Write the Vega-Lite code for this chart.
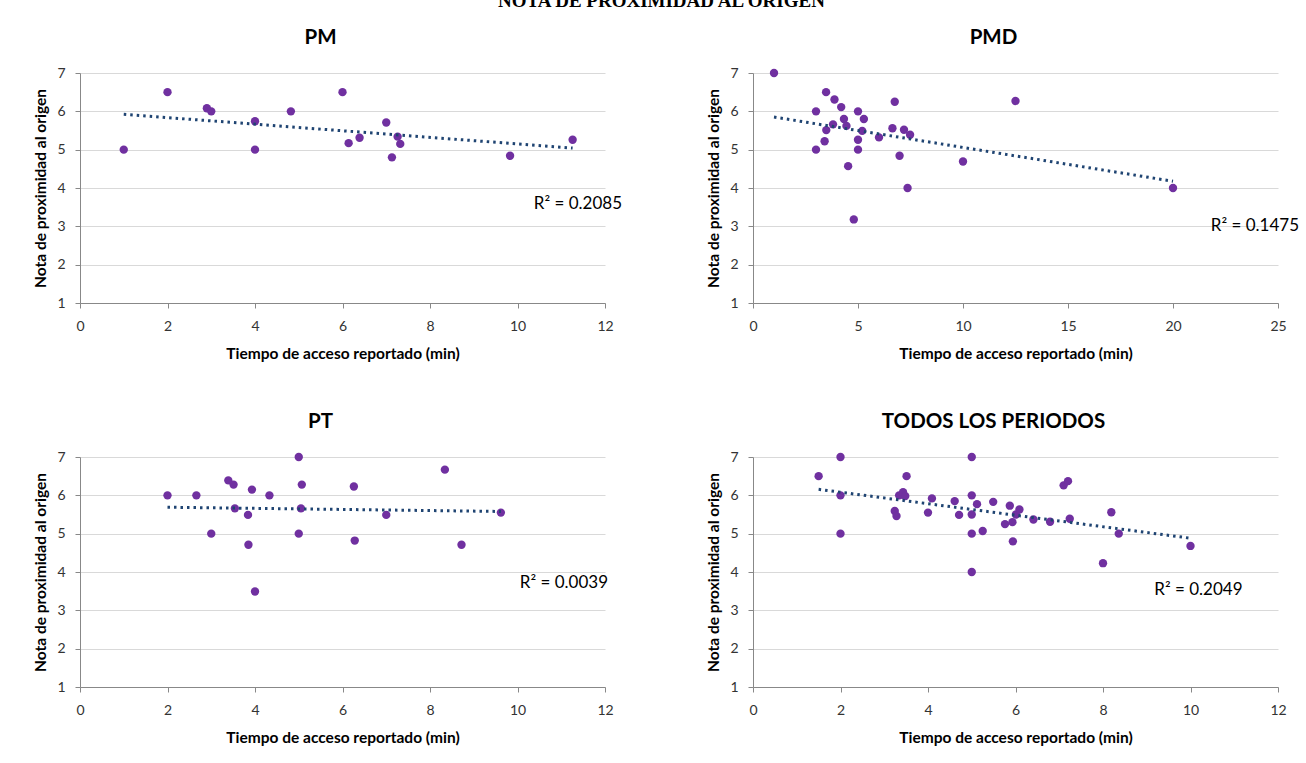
{
  "$schema": "https://vega.github.io/schema/vega-lite/v6.json",
  "background": "white",
  "padding": {"left": 33, "top": -8, "right": 0, "bottom": 0},
  "title": {"text": "NOTA DE PROXIMIDAD AL ORIGEN", "font": "Liberation Serif", "fontSize": 19, "fontWeight": "bold", "offset": 16.5, "dx": -5, "anchor": "middle", "color": "black"},
  "bounds": "flush",
  "columns": 2,
  "spacing": {"row": 154, "column": 148},
  "datasets": {
    "pm": [
      {"t": 1, "nota": 5}, {"t": 2, "nota": 6.5}, {"t": 2.9, "nota": 6.08}, {"t": 3, "nota": 6},
      {"t": 4, "nota": 5.74}, {"t": 4, "nota": 5}, {"t": 4.82, "nota": 6}, {"t": 6, "nota": 6.5},
      {"t": 6.14, "nota": 5.17}, {"t": 6.39, "nota": 5.31}, {"t": 7, "nota": 5.71}, {"t": 7.13, "nota": 4.8},
      {"t": 7.26, "nota": 5.34}, {"t": 7.32, "nota": 5.15}, {"t": 9.83, "nota": 4.84}, {"t": 11.26, "nota": 5.26}
    ],
    "pmd": [
      {"t": 1, "nota": 7}, {"t": 3.48, "nota": 6.5}, {"t": 3.88, "nota": 6.31}, {"t": 4.2, "nota": 6.11},
      {"t": 3, "nota": 6}, {"t": 5, "nota": 6}, {"t": 6.75, "nota": 6.25}, {"t": 12.5, "nota": 6.27},
      {"t": 4.33, "nota": 5.8}, {"t": 5.28, "nota": 5.8}, {"t": 3.81, "nota": 5.66}, {"t": 4.45, "nota": 5.62},
      {"t": 3.49, "nota": 5.51}, {"t": 5.2, "nota": 5.49}, {"t": 6.64, "nota": 5.56}, {"t": 7.19, "nota": 5.52},
      {"t": 7.48, "nota": 5.39}, {"t": 6, "nota": 5.32}, {"t": 3.41, "nota": 5.22}, {"t": 5, "nota": 5.26},
      {"t": 3, "nota": 5}, {"t": 5, "nota": 5}, {"t": 6.98, "nota": 4.84}, {"t": 10, "nota": 4.69},
      {"t": 4.53, "nota": 4.57}, {"t": 7.36, "nota": 4}, {"t": 20, "nota": 4}, {"t": 4.8, "nota": 3.18}
    ],
    "pt": [
      {"t": 2, "nota": 6}, {"t": 2.66, "nota": 6}, {"t": 3, "nota": 5}, {"t": 3.39, "nota": 6.39},
      {"t": 3.51, "nota": 6.28}, {"t": 3.54, "nota": 5.66}, {"t": 3.84, "nota": 5.49}, {"t": 3.85, "nota": 4.71},
      {"t": 3.93, "nota": 6.15}, {"t": 4, "nota": 3.49}, {"t": 4.33, "nota": 6}, {"t": 5, "nota": 7},
      {"t": 5.07, "nota": 6.28}, {"t": 5.05, "nota": 5.66}, {"t": 5, "nota": 5}, {"t": 6.26, "nota": 6.23},
      {"t": 6.28, "nota": 4.82}, {"t": 7, "nota": 5.49}, {"t": 8.34, "nota": 6.67}, {"t": 8.72, "nota": 4.71},
      {"t": 9.62, "nota": 5.55}
    ],
    "todos": [
      {"t": 1.5, "nota": 6.5}, {"t": 2, "nota": 7}, {"t": 2, "nota": 6}, {"t": 2, "nota": 5},
      {"t": 3.24, "nota": 5.59}, {"t": 3.28, "nota": 5.46}, {"t": 3.34, "nota": 6}, {"t": 3.43, "nota": 6.08},
      {"t": 3.48, "nota": 5.98}, {"t": 3.51, "nota": 6.5}, {"t": 4, "nota": 5.55}, {"t": 4.09, "nota": 5.92},
      {"t": 4.61, "nota": 5.85}, {"t": 4.71, "nota": 5.49}, {"t": 5, "nota": 7}, {"t": 5, "nota": 6},
      {"t": 5, "nota": 5.5}, {"t": 5, "nota": 5}, {"t": 5, "nota": 4}, {"t": 5.12, "nota": 5.77},
      {"t": 5.25, "nota": 5.07}, {"t": 5.49, "nota": 5.83}, {"t": 5.76, "nota": 5.25}, {"t": 5.87, "nota": 5.73},
      {"t": 5.93, "nota": 5.3}, {"t": 5.94, "nota": 4.8}, {"t": 6.01, "nota": 5.5}, {"t": 6.09, "nota": 5.63},
      {"t": 6.41, "nota": 5.37}, {"t": 6.79, "nota": 5.31}, {"t": 7.1, "nota": 6.26}, {"t": 7.2, "nota": 6.37},
      {"t": 7.24, "nota": 5.39}, {"t": 8, "nota": 4.23}, {"t": 8.19, "nota": 5.56}, {"t": 8.36, "nota": 5},
      {"t": 10, "nota": 4.68}
    ]
  },
  "concat": [
    {
      "width": 525, "height": 230,
      "title": {"text": "PM", "dx": -22, "offset": 18},
      "data": {"name": "pm"},
      "layer": [
        {"mark": {"type": "circle", "size": 70, "opacity": 1, "color": "#7030A0"},
         "encoding": {
           "x": {"field": "t", "type": "quantitative", "scale": {"domain": [0, 12], "nice": false}, "axis": {"values": [0, 2, 4, 6, 8, 10, 12], "title": "Tiempo de acceso reportado (min)"}},
           "y": {"field": "nota", "type": "quantitative", "scale": {"domain": [1, 7], "nice": false, "zero": false}, "axis": {"values": [1, 2, 3, 4, 5, 6, 7], "tickCount": 7, "title": "Nota de proximidad al origen"}}}},
        {"transform": [{"regression": "nota", "on": "t"}],
         "mark": {"type": "line", "color": "#1F4472", "strokeWidth": 3, "strokeDash": [2.5, 4], "strokeCap": "butt"},
         "encoding": {
           "x": {"field": "t", "type": "quantitative", "scale": {"domain": [0, 12], "nice": false}, "axis": {"values": [0, 2, 4, 6, 8, 10, 12], "title": "Tiempo de acceso reportado (min)"}},
           "y": {"field": "nota", "type": "quantitative", "scale": {"domain": [1, 7], "nice": false, "zero": false}, "axis": {"values": [1, 2, 3, 4, 5, 6, 7], "tickCount": 7, "title": "Nota de proximidad al origen"}}}},
        {"data": {"values": [{"label": "R² = 0.2085"}]},
         "mark": {"type": "text", "align": "right", "baseline": "middle", "fontSize": 17, "font": "Lato", "color": "black"},
         "encoding": {"text": {"field": "label"},
           "x": {"datum": 12.39, "type": "quantitative", "scale": {"domain": [0, 12], "nice": false}, "axis": {"values": [0, 2, 4, 6, 8, 10, 12], "title": "Tiempo de acceso reportado (min)"}},
           "y": {"datum": 3.58, "type": "quantitative", "scale": {"domain": [1, 7], "nice": false, "zero": false}, "axis": {"values": [1, 2, 3, 4, 5, 6, 7], "tickCount": 7, "title": "Nota de proximidad al origen"}}}}
      ]
    },
    {
      "width": 525, "height": 230,
      "title": {"text": "PMD", "dx": -22, "offset": 18},
      "data": {"name": "pmd"},
      "layer": [
        {"mark": {"type": "circle", "size": 70, "opacity": 1, "color": "#7030A0"},
         "encoding": {
           "x": {"field": "t", "type": "quantitative", "scale": {"domain": [0, 25], "nice": false}, "axis": {"values": [0, 5, 10, 15, 20, 25], "title": "Tiempo de acceso reportado (min)"}},
           "y": {"field": "nota", "type": "quantitative", "scale": {"domain": [1, 7], "nice": false, "zero": false}, "axis": {"values": [1, 2, 3, 4, 5, 6, 7], "tickCount": 7, "title": "Nota de proximidad al origen"}}}},
        {"transform": [{"regression": "nota", "on": "t"}],
         "mark": {"type": "line", "color": "#1F4472", "strokeWidth": 3, "strokeDash": [2.5, 4], "strokeCap": "butt"},
         "encoding": {
           "x": {"field": "t", "type": "quantitative", "scale": {"domain": [0, 25], "nice": false}, "axis": {"values": [0, 5, 10, 15, 20, 25], "title": "Tiempo de acceso reportado (min)"}},
           "y": {"field": "nota", "type": "quantitative", "scale": {"domain": [1, 7], "nice": false, "zero": false}, "axis": {"values": [1, 2, 3, 4, 5, 6, 7], "tickCount": 7, "title": "Nota de proximidad al origen"}}}},
        {"data": {"values": [{"label": "R² = 0.1475"}]},
         "mark": {"type": "text", "align": "right", "baseline": "middle", "fontSize": 17, "font": "Lato", "color": "black"},
         "encoding": {"text": {"field": "label"},
           "x": {"datum": 26.0, "type": "quantitative", "scale": {"domain": [0, 25], "nice": false}, "axis": {"values": [0, 5, 10, 15, 20, 25], "title": "Tiempo de acceso reportado (min)"}},
           "y": {"datum": 3.0, "type": "quantitative", "scale": {"domain": [1, 7], "nice": false, "zero": false}, "axis": {"values": [1, 2, 3, 4, 5, 6, 7], "tickCount": 7, "title": "Nota de proximidad al origen"}}}}
      ]
    },
    {
      "width": 525, "height": 230,
      "title": {"text": "PT", "dx": -22, "offset": 18},
      "data": {"name": "pt"},
      "layer": [
        {"mark": {"type": "circle", "size": 70, "opacity": 1, "color": "#7030A0"},
         "encoding": {
           "x": {"field": "t", "type": "quantitative", "scale": {"domain": [0, 12], "nice": false}, "axis": {"values": [0, 2, 4, 6, 8, 10, 12], "title": "Tiempo de acceso reportado (min)"}},
           "y": {"field": "nota", "type": "quantitative", "scale": {"domain": [1, 7], "nice": false, "zero": false}, "axis": {"values": [1, 2, 3, 4, 5, 6, 7], "tickCount": 7, "title": "Nota de proximidad al origen"}}}},
        {"transform": [{"regression": "nota", "on": "t"}],
         "mark": {"type": "line", "color": "#1F4472", "strokeWidth": 3, "strokeDash": [2.5, 4], "strokeCap": "butt"},
         "encoding": {
           "x": {"field": "t", "type": "quantitative", "scale": {"domain": [0, 12], "nice": false}, "axis": {"values": [0, 2, 4, 6, 8, 10, 12], "title": "Tiempo de acceso reportado (min)"}},
           "y": {"field": "nota", "type": "quantitative", "scale": {"domain": [1, 7], "nice": false, "zero": false}, "axis": {"values": [1, 2, 3, 4, 5, 6, 7], "tickCount": 7, "title": "Nota de proximidad al origen"}}}},
        {"data": {"values": [{"label": "R² = 0.0039"}]},
         "mark": {"type": "text", "align": "right", "baseline": "middle", "fontSize": 17, "font": "Lato", "color": "black"},
         "encoding": {"text": {"field": "label"},
           "x": {"datum": 12.07, "type": "quantitative", "scale": {"domain": [0, 12], "nice": false}, "axis": {"values": [0, 2, 4, 6, 8, 10, 12], "title": "Tiempo de acceso reportado (min)"}},
           "y": {"datum": 3.71, "type": "quantitative", "scale": {"domain": [1, 7], "nice": false, "zero": false}, "axis": {"values": [1, 2, 3, 4, 5, 6, 7], "tickCount": 7, "title": "Nota de proximidad al origen"}}}}
      ]
    },
    {
      "width": 525, "height": 230,
      "title": {"text": "TODOS LOS PERIODOS", "dx": -22, "offset": 18},
      "data": {"name": "todos"},
      "layer": [
        {"mark": {"type": "circle", "size": 70, "opacity": 1, "color": "#7030A0"},
         "encoding": {
           "x": {"field": "t", "type": "quantitative", "scale": {"domain": [0, 12], "nice": false}, "axis": {"values": [0, 2, 4, 6, 8, 10, 12], "title": "Tiempo de acceso reportado (min)"}},
           "y": {"field": "nota", "type": "quantitative", "scale": {"domain": [1, 7], "nice": false, "zero": false}, "axis": {"values": [1, 2, 3, 4, 5, 6, 7], "tickCount": 7, "title": "Nota de proximidad al origen"}}}},
        {"transform": [{"regression": "nota", "on": "t"}],
         "mark": {"type": "line", "color": "#1F4472", "strokeWidth": 3, "strokeDash": [2.5, 4], "strokeCap": "butt"},
         "encoding": {
           "x": {"field": "t", "type": "quantitative", "scale": {"domain": [0, 12], "nice": false}, "axis": {"values": [0, 2, 4, 6, 8, 10, 12], "title": "Tiempo de acceso reportado (min)"}},
           "y": {"field": "nota", "type": "quantitative", "scale": {"domain": [1, 7], "nice": false, "zero": false}, "axis": {"values": [1, 2, 3, 4, 5, 6, 7], "tickCount": 7, "title": "Nota de proximidad al origen"}}}},
        {"data": {"values": [{"label": "R² = 0.2049"}]},
         "mark": {"type": "text", "align": "right", "baseline": "middle", "fontSize": 17, "font": "Lato", "color": "black"},
         "encoding": {"text": {"field": "label"},
           "x": {"datum": 11.19, "type": "quantitative", "scale": {"domain": [0, 12], "nice": false}, "axis": {"values": [0, 2, 4, 6, 8, 10, 12], "title": "Tiempo de acceso reportado (min)"}},
           "y": {"datum": 3.53, "type": "quantitative", "scale": {"domain": [1, 7], "nice": false, "zero": false}, "axis": {"values": [1, 2, 3, 4, 5, 6, 7], "tickCount": 7, "title": "Nota de proximidad al origen"}}}}
      ]
    }
  ],
  "config": {
    "font": "Lato",
    "view": {"stroke": null},
    "title": {"fontSize": 20.5, "fontWeight": "bold", "font": "Lato", "color": "black", "anchor": "middle"},
    "axis": {
      "labelFont": "Lato", "labelFontSize": 14, "labelColor": "#333333",
      "labelFlush": false, "labelOverlap": false,
      "titleFont": "Lato", "titleFontSize": 15.5, "titleFontWeight": "bold", "titleColor": "black",
      "domainColor": "#888888", "tickColor": "#888888", "tickSize": 5, "gridColor": "#D9D9D9"
    },
    "axisX": {"grid": false, "labelPadding": 11, "titlePadding": 13},
    "axisY": {"grid": true, "tickCount": 7, "labelPadding": 10, "titlePadding": 8}
  }
}
